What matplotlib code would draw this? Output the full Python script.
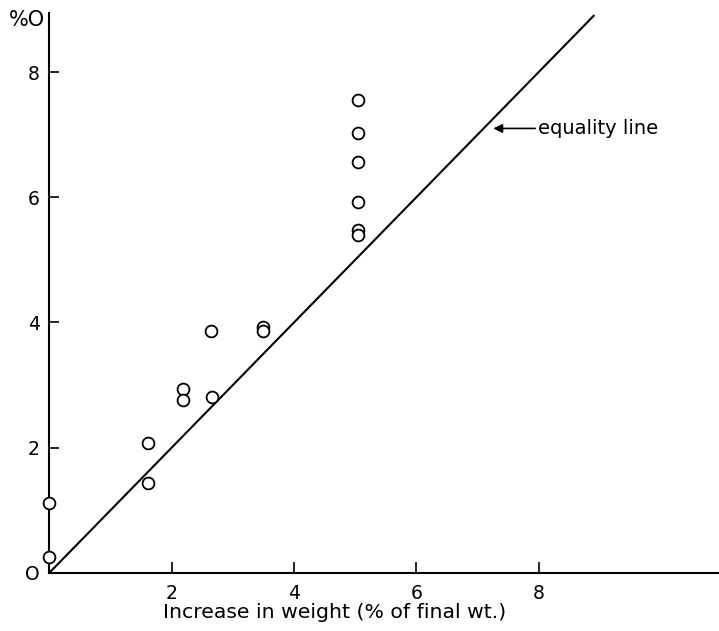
import matplotlib.pyplot as plt
import numpy as np

# weight increase (% of final wt.) vs measured value (%)
weight_increase = [0.0, 0.0, 1.61, 1.61, 2.18, 2.18, 2.64, 2.66, 3.50, 3.50,
                   5.05, 5.05, 5.05, 5.05, 5.05, 5.05]
measured = [1.11, 0.25, 2.08, 1.44, 2.93, 2.76, 3.87, 2.80, 3.93, 3.87,
            7.55, 7.02, 6.56, 5.92, 5.47, 5.39]

equality_x = [0.0, 8.9]
x_ticks = [2, 4, 6, 8]
y_ticks = [0, 2, 4, 6, 8]
y_tick_labels = ['O', '2', '4', '6', '8']

fig = plt.figure(figsize=(7.19, 6.31), dpi=100)
ax = fig.add_axes([0.0688, 0.0924, 0.9312, 0.8875])

ax.plot(equality_x, equality_x, color='black', lw=1.5, zorder=2)
ax.plot(weight_increase, measured, 'o', ms=8.5, mfc='white', mec='black',
        mew=1.3, zorder=3, clip_on=False)

ax.annotate('equality line', xy=(7.26, 7.1), xytext=(7.99, 7.1),
            fontsize=14, va='center', ha='left',
            arrowprops=dict(arrowstyle='-|>', color='black', lw=1.2,
                            mutation_scale=13, shrinkA=0, shrinkB=0))

ax.set_xlim(0, 10.95)
ax.set_ylim(0, 8.95)
ax.set_xticks(x_ticks)
ax.set_yticks(y_ticks)
ax.set_yticklabels(y_tick_labels)
ax.tick_params(axis='x', direction='in', length=8, width=1.2, pad=8, labelsize=13.5)
ax.tick_params(axis='y', direction='in', length=7, width=1.2, pad=7, labelsize=13.5)
ax.spines['top'].set_visible(False)
ax.spines['right'].set_visible(False)
ax.spines['left'].set_linewidth(1.5)
ax.spines['bottom'].set_linewidth(1.5)

ax.set_xlabel('Increase in weight (% of final wt.)', fontsize=14.7)
ax.xaxis.set_label_coords(0.426, -0.055)
fig.text(0.038, 0.968, '%O', fontsize=15, ha='center', va='center')

fig.savefig('out.png', dpi=100, facecolor='white')
